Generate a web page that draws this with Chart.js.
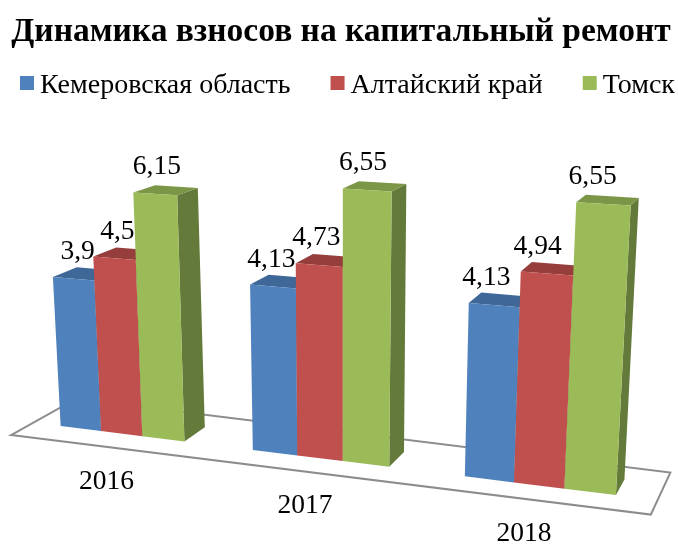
<!DOCTYPE html>
<html>
<head>
<meta charset="utf-8">
<script src="https://cdn.jsdelivr.net/npm/chart.js@4"></script>
<style>
body { margin: 0; background: #fff; }
</style>
</head>
<body>
<canvas id="chart" width="678" height="544"></canvas>
<script>
const years = ['2016', '2017', '2018'];
const kemerovo = [3.9, 4.13, 4.13];
const altai = [4.5, 4.73, 4.94];
const tomsk = [6.15, 6.55, 6.55];

const seriesNames = ['Кемеровская область', 'Алтайский край', 'Томск'];
const frontColors = ['#4f81bd', '#c0504d', '#9bbb59'];
const topColors = ['#3f6797', '#953e3c', '#7c9647'];
const sideColors = ['#36587f', '#7d3432', '#647a3a'];

const serif = '"Liberation Serif", "Times New Roman", serif';

// perspective of the picture: plot position (u 0..1, value) to canvas pixels
function project(u, v) {
	const w = 1 - 0.139 * u - 0.0068 * v;
	return {
		x: (536.8 * u + 29.3 - 2.33 * v) / w,
		y: (8.6 * u + 422.1 - 39.8 * v) / w
	};
}

// push a point along the depth axis, towards the vanishing point
function deepen(p, t) {
	return { x: p.x + t * (925 - p.x), y: p.y + t * (-75 - p.y) };
}

function poly(ctx, points, fill, stroke) {
	ctx.beginPath();
	points.forEach(function(p, i) {
		if (i === 0) ctx.moveTo(p.x, p.y);
		else ctx.lineTo(p.x, p.y);
	});
	ctx.closePath();
	if (fill) {
		ctx.fillStyle = fill;
		ctx.fill();
	}
	if (stroke) {
		ctx.strokeStyle = stroke;
		ctx.lineWidth = 2;
		ctx.stroke();
	}
}

const bars3d = {
	id: 'bars3d',
	beforeDatasetsDraw(chart) {
		const ctx = chart.ctx;
		const area = chart.chartArea;
		const yScale = chart.scales.y;
		const toU = function(px) { return (px - area.left) / (area.right - area.left); };

		ctx.save();

		// floor
		const fl = project(0.0075, 0), fr = project(1, 0);
		poly(ctx, [deepen(fl, -0.025), deepen(fr, -0.025), deepen(fr, 0.048), deepen(fl, 0.048)], '#fff', '#8c8c8c');

		// bars, group by group, left series first so the next one covers it
		const labels = [];
		years.forEach(function(year, i) {
			chart.data.datasets.forEach(function(ds, d) {
				const el = chart.getDatasetMeta(d).data[i];
				const u0 = toU(el.x - el.width / 2);
				const u1 = toU(el.x + el.width / 2);
				const v = yScale.getValueForPixel(el.y);
				const bl = project(u0, 0), br = project(u1, 0);
				const tl = project(u0, v), tr = project(u1, v);
				const depth = 0.0275;
				poly(ctx, [br, tr, deepen(tr, depth), deepen(br, depth)], sideColors[d]);
				poly(ctx, [tl, tr, deepen(tr, depth), deepen(tl, depth)], topColors[d]);
				poly(ctx, [bl, br, tr, tl], frontColors[d]);
				const cx = (tl.x + tr.x) / 2;
				labels.push({ text: String(ds.data[i]).replace('.', ','), x: cx + 6 - 0.028 * cx, y: (tl.y + tr.y) / 2 - 27 });
			});
			const c = project(toU(chart.scales.x.getPixelForValue(i)), 0);
			labels.push({ text: year, x: c.x - 15, y: c.y + 48 });
		});

		ctx.fillStyle = '#000';
		ctx.font = '27.5px ' + serif;
		ctx.textAlign = 'center';
		ctx.textBaseline = 'middle';
		labels.forEach(function(l) {
			ctx.fillText(l.text, l.x, l.y);
		});

		// legend row: the built-in one wraps at this width
		ctx.font = '28px ' + serif;
		ctx.textAlign = 'left';
		ctx.textBaseline = 'alphabetic';
		let cursor = 20;
		seriesNames.forEach(function(name, d) {
			ctx.fillStyle = frontColors[d];
			ctx.fillRect(cursor, 76, 14, 14);
			ctx.fillStyle = '#000';
			ctx.fillText(name, cursor + 20, 93);
			cursor += 20 + ctx.measureText(name).width + 40;
		});

		ctx.restore();
		return false;
	}
};

new Chart(document.getElementById('chart'), {
	type: 'bar',
	data: {
		labels: years,
		datasets: [
			{ label: seriesNames[0], data: kemerovo, backgroundColor: frontColors[0] },
			{ label: seriesNames[1], data: altai, backgroundColor: frontColors[1] },
			{ label: seriesNames[2], data: tomsk, backgroundColor: frontColors[2] }
		]
	},
	options: {
		responsive: false,
		animation: false,
		categoryPercentage: 0.655,
		barPercentage: 1,
		layout: { padding: { left: 4 } },
		plugins: {
			title: {
				display: true,
				text: 'Динамика взносов на капитальный ремонт',
				color: '#000',
				font: { family: serif, size: 33.5, weight: 'bold' },
				padding: { top: 12, bottom: 16 }
			},
			legend: { display: false },
			tooltip: { enabled: false }
		},
		scales: {
			x: { display: false },
			y: { display: false, min: 0, max: 7 }
		}
	},
	plugins: [bars3d]
});
</script>
</body>
</html>
